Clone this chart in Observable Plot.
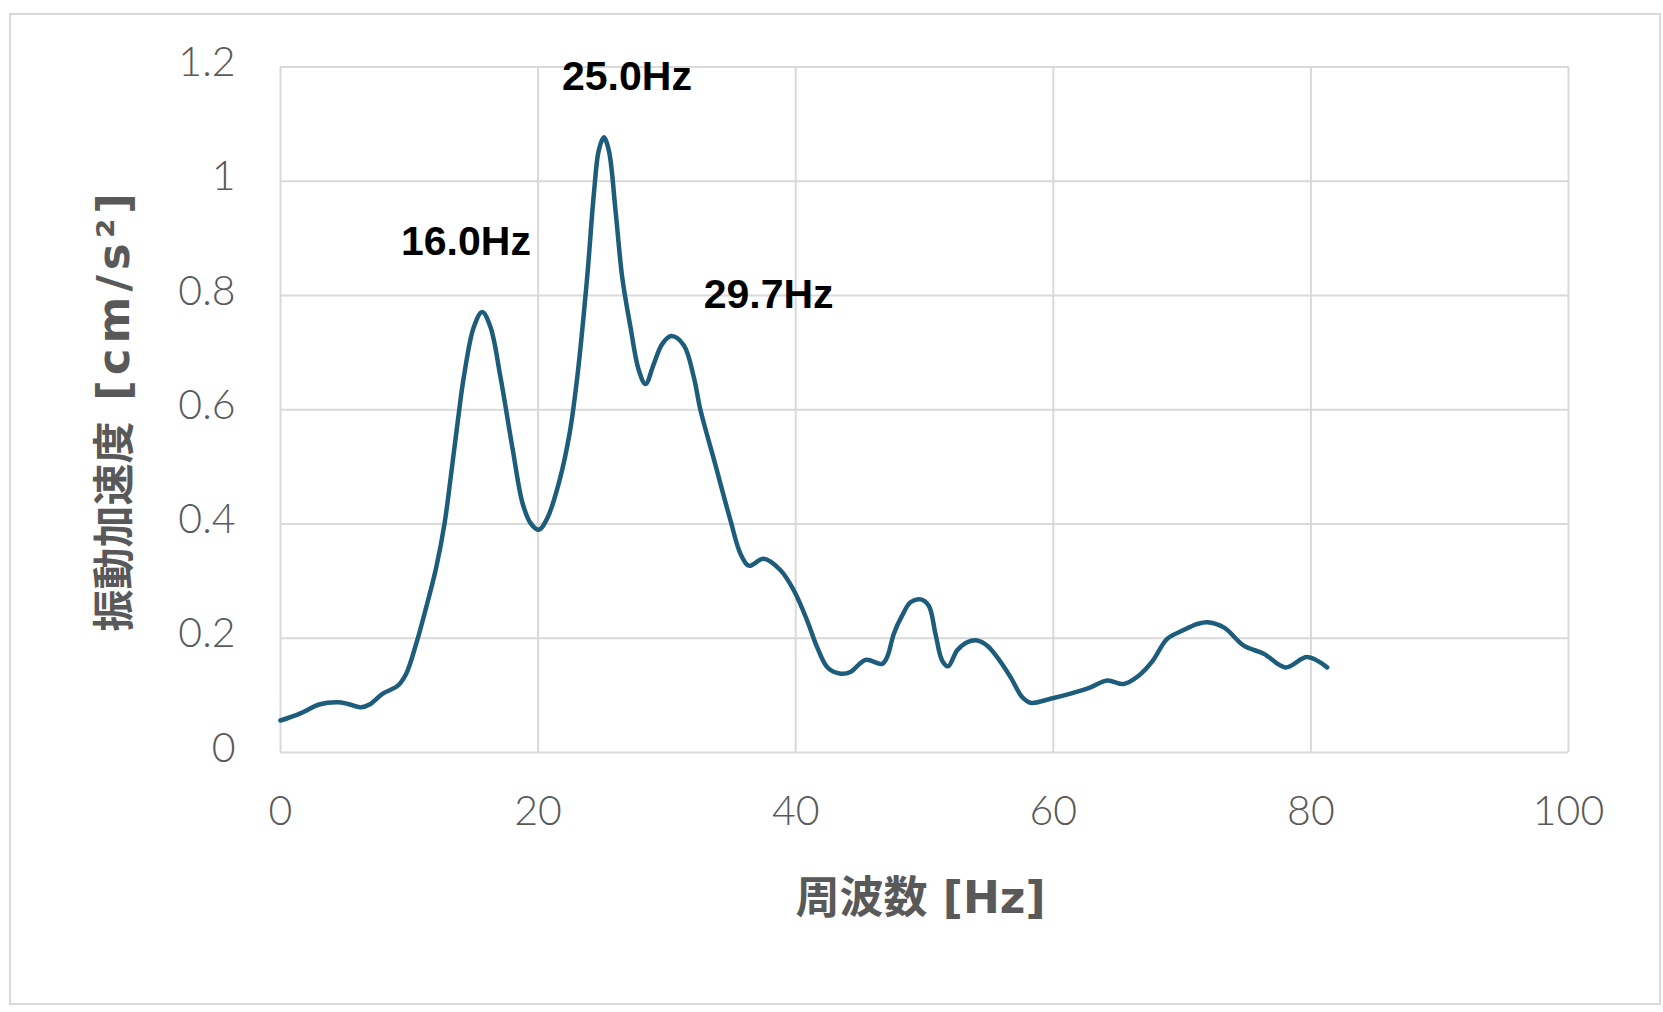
<!DOCTYPE html>
<html><head><meta charset="utf-8">
<script src="https://cdn.jsdelivr.net/npm/d3@7"></script>
<script src="https://cdn.jsdelivr.net/npm/@observablehq/plot@0.6"></script>
<style>
html,body{margin:0;padding:0;background:#fff;}
#wrap{position:relative;width:1663px;height:1012px;}
#border{position:absolute;left:9px;top:13px;width:1652px;height:992px;border:2.5px solid #d9d9d9;box-sizing:border-box;pointer-events:none;}
</style></head><body>
<div id="wrap"><div id="chart"></div><div id="border"></div></div>
<script>
// frequency [Hz]
const freq = [0, 1.5, 3.0, 4.45, 5.23, 6.26, 6.91, 7.94, 9.11, 9.76, 10.53, 11.31, 12.09, 12.73, 13.25, 13.77,
  14.23, 15.01, 15.66, 16.30, 17.08, 18.04, 18.81, 19.46, 20.06, 20.75, 21.66, 22.44, 23.04, 23.81, 24.33, 24.71,
  25.10, 25.49, 26.01, 26.53, 27.17, 27.82, 28.34, 28.98, 29.63, 30.35, 31.31, 32.09, 32.61, 33.64, 34.94, 35.71,
  36.36, 37.52, 38.82, 39.85, 40.89, 41.67, 42.5, 43.5, 44.25, 45.42, 46.71, 47.1, 47.62, 48.27, 48.91, 49.69,
  50.33, 50.85, 51.37, 51.84, 52.54, 53.31, 54.09, 54.87, 55.64, 56.68, 57.58, 58.23, 59.78, 61.34, 62.89, 64.18,
  65.47, 66.6, 67.7, 68.84, 70.0, 71.2, 71.95, 73.24, 74.79, 76.34, 78.03, 79.71, 81.26];
// vibration acceleration [cm/s^2]
const accel = [0.056, 0.068, 0.084, 0.088, 0.085, 0.079, 0.084, 0.103, 0.117, 0.138, 0.190, 0.254, 0.324, 0.400, 0.488, 0.581,
  0.657, 0.745, 0.771, 0.745, 0.657, 0.529, 0.435, 0.400, 0.390, 0.412, 0.476, 0.558, 0.657, 0.832, 0.978, 1.054,
  1.077, 1.054, 0.949, 0.832, 0.745, 0.669, 0.645, 0.680, 0.715, 0.729, 0.713, 0.657, 0.599, 0.514, 0.406, 0.348,
  0.327, 0.339, 0.319, 0.284, 0.231, 0.184, 0.148, 0.138, 0.141, 0.162, 0.155, 0.167, 0.208, 0.240, 0.263, 0.268,
  0.257, 0.208, 0.161, 0.151, 0.179, 0.193, 0.196, 0.187, 0.167, 0.132, 0.097, 0.087, 0.094, 0.103, 0.114, 0.126,
  0.120, 0.134, 0.160, 0.199, 0.213, 0.225, 0.228, 0.219, 0.187, 0.173, 0.149, 0.167, 0.149];

const xTicks = [0, 20, 40, 60, 80, 100];
const yTicks = [0, 0.2, 0.4, 0.6, 0.8, 1, 1.2];
const peakLabels = ["16.0Hz", "25.0Hz", "29.7Hz"];
const peakLabelX = [14.4, 26.9, 37.9];
const peakLabelY = [0.893, 1.182, 0.801];
const xTitle = "周波数 [Hz]";
const yTitleMain = "振動加速度";
const yTitleUnit = " [cm/s²]";
const yTitle = yTitleMain + yTitleUnit;

const series = freq.map((f, i) => ({f, a: accel[i]}));
const grid = "#d9d9d9";
const textGrey = "#595959";

const chart = Plot.plot({
  width: 1663,
  height: 1012,
  marginLeft: 280,
  marginRight: 95,
  marginTop: 66.5,
  marginBottom: 260,
  x: {domain: [0, 100]},
  y: {domain: [0, 1.2]},
  style: {fontFamily: "Lato, 'Noto Sans CJK JP', sans-serif", background: "white", overflow: "visible"},
  marks: [
    Plot.gridX(xTicks, {stroke: grid, strokeOpacity: 1, strokeWidth: 2}),
    Plot.gridY(yTicks, {stroke: grid, strokeOpacity: 1, strokeWidth: 2}),
    Plot.axisX(xTicks, {tickSize: 0, tickPadding: 43, fontSize: 41, color: textGrey, fontWeight: 300, label: null, tickFormat: d => String(d)}),
    Plot.axisY(yTicks, {tickSize: 0, tickPadding: 45, fontSize: 41, color: textGrey, fontWeight: 300, label: null, dy: -4, tickFormat: d => String(d)}),
    Plot.line(series, {x: "f", y: "a", stroke: "#1d5c7b", strokeWidth: 4.5, curve: "catmull-rom", strokeLinecap: "round", strokeLinejoin: "round"}),
    Plot.text(peakLabels, {x: (d, i) => peakLabelX[i], y: (d, i) => peakLabelY[i], text: d => d,
      fontSize: 41, fontWeight: "bold", fill: "black", fontFamily: "'Liberation Sans', Arial, sans-serif"}),
    Plot.text([xTitle], {frameAnchor: "bottom", text: d => d, dy: 146, dx: -4, lineAnchor: "middle", textAnchor: "middle",
      fontSize: 44, fontWeight: "bold", fill: textGrey, fontFamily: "'DejaVu Sans', 'Noto Sans CJK JP', sans-serif"}),
    Plot.text([yTitle], {frameAnchor: "left", text: d => d, dx: -165, rotate: -90, lineAnchor: "middle", textAnchor: "middle",
      fontSize: 42, fontWeight: "bold", fill: textGrey, fontFamily: "'DejaVu Sans', 'Noto Sans CJK JP', sans-serif"})
  ]
});
document.getElementById("chart").appendChild(chart);

// widen the unit part of the y-axis title, as in the original
d3.select(chart).selectAll("text").filter(function() { return this.textContent === yTitle; }).each(function() {
  const t = d3.select(this);
  t.text(null);
  t.append("tspan").text(yTitleMain);
  t.append("tspan").attr("font-size", 45).attr("letter-spacing", 5).text(yTitleUnit);
});
</script>
</body></html>
